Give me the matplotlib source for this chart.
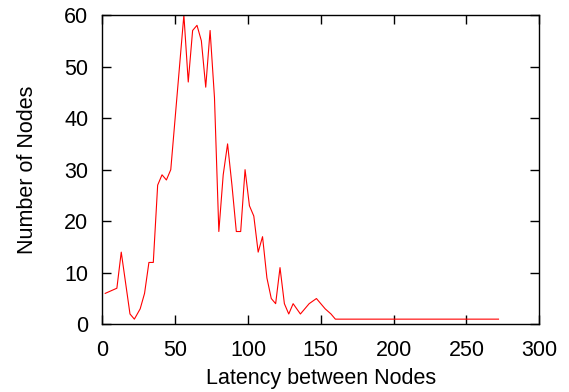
import matplotlib.pyplot as plt

plt.rcParams['font.family'] = ['Liberation Sans', 'DejaVu Sans']

# latency (x) vs number of nodes (y)
latency = [2, 10, 13, 19, 22, 26, 29, 32, 35, 38, 41, 44, 47, 50, 53, 56, 59, 62,
           65, 68, 71, 74, 77, 80, 83, 86, 89, 92, 95, 98, 101, 104, 107, 110,
           113, 116, 119, 122, 125, 128, 131, 136, 142, 147, 153, 157, 160, 272]
nodes = [6, 7, 14, 2, 1, 3, 6, 12, 12, 27, 29, 28, 30, 40, 50, 60, 47, 57,
         58, 55, 46, 57, 44, 18, 29, 35, 27, 18, 18, 30, 23, 21, 14, 17,
         9, 5, 4, 11, 4, 2, 4, 2, 4, 5, 3, 2, 1, 1]

fig = plt.figure(figsize=(5.69, 3.92), dpi=100)
ax = fig.add_axes([0.1798, 0.1727, 0.768, 0.789])

ax.plot(latency, nodes, color='red', linewidth=0.8)

ax.set_xlim(0, 300)
ax.set_ylim(0, 60)
ax.set_xticks(range(0, 301, 50))
ax.set_yticks(range(0, 61, 10))
ax.tick_params(direction='in', length=6.7, width=1, top=True, right=True,
               labelsize=15.5)
ax.tick_params(axis='x', pad=11.5)
ax.tick_params(axis='y', pad=10)
for s in ax.spines.values():
    s.set_linewidth(1)

ax.set_xlabel('Latency between Nodes', fontsize=15.5, labelpad=5)
ax.set_ylabel('Number of Nodes', fontsize=15.5, labelpad=19)

fig.savefig('out.png', dpi=100)
